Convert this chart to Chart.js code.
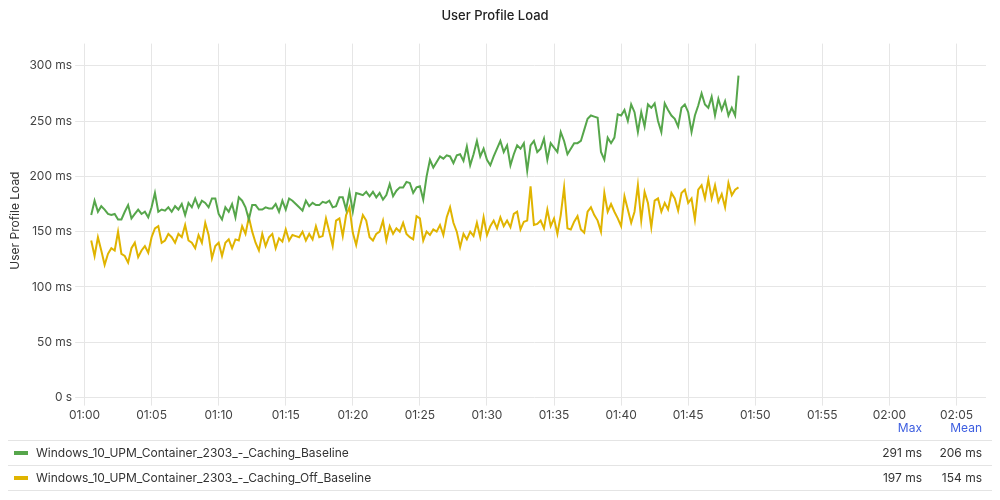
<!DOCTYPE html>
<html>
<head>
<meta charset="utf-8">
<script src="https://cdn.jsdelivr.net/npm/chart.js@4"></script>
<style>
  body { margin: 0; background: #fff; font-family: Inter, "Noto Sans", sans-serif; }
  #wrap { position: relative; width: 1000px; height: 426px; }
  #legend { position: absolute; top: 420px; left: 8px; width: 984px; font-size: 12px; color: #333; }
  .hdr { height: 20px; display: flex; justify-content: flex-end; color: #3d5ee0; padding-right: 10px; }
  .hdr span { display: inline-block; width: 60px; text-align: right; }
  .row { height: 24px; line-height: 24px; border-top: 1px solid #e4e4e4; display: flex; padding-right: 10px; }
  .row:last-child { border-bottom: 1px solid #e4e4e4; }
  .sw { display: inline-block; width: 14px; height: 4px; margin: 10px 8px 0 6px; }
  .name { flex: 1; }
  .v { width: 60px; text-align: right; }
</style>
</head>
<body>
<div id="wrap"><canvas id="chart"></canvas></div>
<div id="legend">
  <div class="hdr"><span>Max</span><span>Mean</span></div>
  <div class="row"><span class="sw" style="background:#56a64b"></span><span class="name">Windows_10_UPM_Container_2303_-_Caching_Baseline</span><span class="v">291 ms</span><span class="v">206 ms</span></div>
  <div class="row"><span class="sw" style="background:#e0b400"></span><span class="name">Windows_10_UPM_Container_2303_-_Caching_Off_Baseline</span><span class="v">197 ms</span><span class="v">154 ms</span></div>
</div>
<script>
// samples every 15 s starting at 01:00:30
const startMin = 0.5;
const stepMin = 0.25;
const xTicks = ['01:00','01:05','01:10','01:15','01:20','01:25','01:30','01:35','01:40','01:45','01:50','01:55','02:00','02:05'];

const cachingBaseline = [
  165,178,168,
  173,170,166,165, 166,161,161,168, 174,162,166,170, 166,168,163,172,
  185,168,170,169, 172,168,173,170, 175,165,176,172, 180,172,178,176, 172,180,180,166,
  161,172,168,175, 163,181,178,172, 161,174,174,170, 170,172,171,171, 175,168,178,170,
  180,178,175,172, 169,178,173,176, 174,174,177,176, 178,172,173,181, 181,170,186,168,
  185,184,183,186, 182,186,181,185, 179,183,193,182, 187,190,190,195, 194,185,190,191,
  179,200,215,208, 213,218,216,219, 218,212,219,220, 214,227,210,220, 232,218,225,215,
  210,218,225,232, 222,228,210,220, 228,225,230,205, 228,232,222,225, 234,215,230,226,
  222,240,232,220, 225,230,230,232, 242,252,255,254, 253,222,215,235, 230,235,256,255,
  260,250,265,258, 240,258,245,265, 262,266,250,240, 266,260,255,252, 245,262,265,258,
  240,255,264,275, 265,262,272,255, 270,260,268,255, 262,255,291
];
const cachingOffBaseline = [
  142,128,145,
  133,120,130,135, 133,150,130,128, 122,135,140,127, 133,137,131,145,
  153,155,140,142, 148,145,140,148, 145,156,142,140, 135,147,140,158, 147,126,137,140,
  128,140,143,135, 143,142,155,148, 163,150,140,133, 148,137,145,148, 135,144,141,152,
  142,147,146,145, 150,142,148,143, 155,145,146,162, 150,137,160,162, 146,165,172,149,
  138,153,165,160, 145,142,148,150, 160,142,155,148, 153,150,158,148, 145,143,164,162,
  142,150,147,152, 150,156,147,163, 172,158,150,136, 148,143,150,146, 158,145,163,147,
  155,160,153,163, 155,160,154,166, 168,152,159,160, 191,156,157,160, 153,170,155,162,
  148,165,190,153, 152,159,164,152, 149,168,172,165, 160,150,185,168, 175,168,162,155,
  182,170,158,168, 192,160,186,176, 154,178,180,168, 176,170,185,180, 169,185,188,176,
  180,161,188,192, 180,197,180,192, 177,184,172,194, 183,188,190
];

const toPoints = arr => arr.map((v, i) => ({ x: startMin + i * stepMin, y: v }));

new Chart(document.getElementById('chart'), {
  type: 'line',
  data: {
    datasets: [{
      label: 'Windows_10_UPM_Container_2303_-_Caching_Baseline',
      data: toPoints(cachingBaseline),
      borderColor: '#56a64b',
      borderWidth: 2,
      pointRadius: 0,
      tension: 0
    }, {
      label: 'Windows_10_UPM_Container_2303_-_Caching_Off_Baseline',
      data: toPoints(cachingOffBaseline),
      borderColor: '#e0b400',
      borderWidth: 2,
      pointRadius: 0,
      tension: 0
    }]
  },
  options: {
    animation: false,
    responsive: true,
    maintainAspectRatio: false,
    layout: { padding: { left: 4, right: 14, top: 0, bottom: 0 } },
    plugins: {
      legend: { display: false },
      tooltip: { enabled: false },
      title: {
        display: true,
        text: 'User Profile Load',
        color: '#222',
        font: { size: 13, weight: '500', family: 'Inter' },
        padding: { top: 8, bottom: 20 }
      }
    },
    scales: {
      x: {
        type: 'linear',
        min: -0.1,
        max: 67.2,
        grid: { color: '#e6e6e6' },
        border: { display: false },
        afterBuildTicks: axis => { axis.ticks = xTicks.map((_, i) => ({ value: i * 5 })); },
        ticks: {
          color: '#444',
          font: { size: 12, family: 'Inter' },
          maxRotation: 0,
          callback: (v) => xTicks[Math.round(v / 5)]
        }
      },
      y: {
        min: 0,
        max: 320,
        grid: { color: '#e6e6e6' },
        border: { display: false },
        afterBuildTicks: axis => { axis.ticks = [0,50,100,150,200,250,300].map(v => ({ value: v })); },
        title: { display: true, text: 'User Profile Load', color: '#333', font: { size: 12, family: 'Inter' } },
        ticks: {
          color: '#444',
          font: { size: 12, family: 'Inter' },
          callback: v => v === 0 ? '0 s' : v + ' ms'
        }
      }
    }
  }
});
</script>
</body>
</html>
